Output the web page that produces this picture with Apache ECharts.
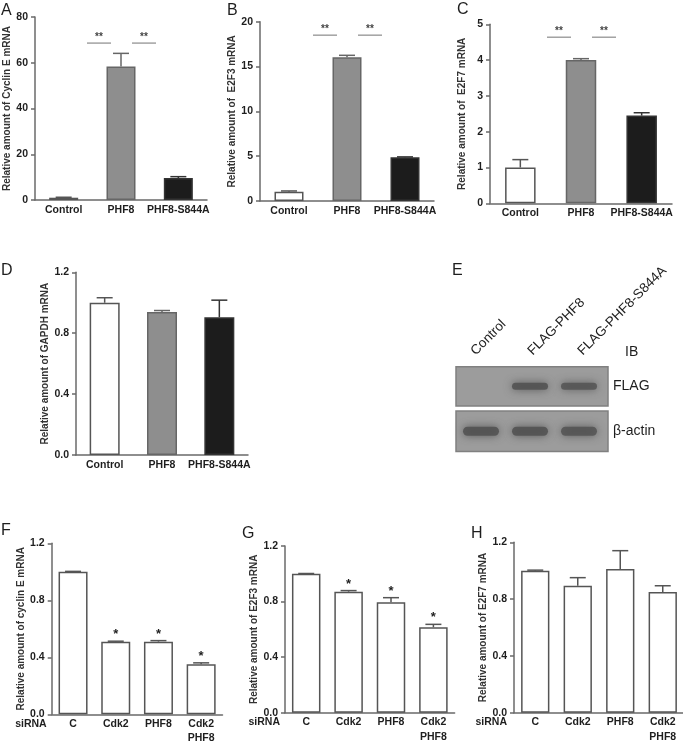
<!DOCTYPE html>
<html>
<head>
<meta charset="utf-8">
<script src="https://cdn.jsdelivr.net/npm/echarts@6/dist/echarts.min.js"></script>
<style>html,body{margin:0;padding:0;background:#fff}#c{width:683px;height:745px}</style>
</head>
<body>
<div id="c"></div>
<script>
// ---------------- DATA ----------------
const catsABC = ['Control', 'PHF8', 'PHF8-S844A'];
const catsFGH = ['C', 'Cdk2', 'PHF8', 'Cdk2\nPHF8'];

const cyclinE_A = [1.0, 58.4, 9.6];
const cyclinE_A_err = [0.2, 5.7, 0.6];
const e2f3_B = [1.04, 16.03, 4.87];
const e2f3_B_err = [0.08, 0.22, 0.05];
const e2f7_C = [1.0, 4.0, 2.45];
const e2f7_C_err = [0.22, 0.04, 0.08];
const gapdh_D = [1.0, 0.94, 0.905];
const gapdh_D_err = [0.033, 0.009, 0.112];

const cyclinE_F = [1.0, 0.509, 0.51, 0.351];
const cyclinE_F_err = [0.003, 0.004, 0.007, 0.01];
const e2f3_G = [1.0, 0.871, 0.795, 0.615];
const e2f3_G_err = [0.002, 0.008, 0.033, 0.021];
const e2f7_H = [1.0, 0.894, 1.012, 0.85];
const e2f7_H_err = [0.004, 0.057, 0.129, 0.044];

const sigLevelA = 68.6, sigLevelB = 18.5, sigLevelC = 4.64;   // "**" bracket heights
const starsF = [false, true, true, true];
const starsG = [false, true, true, true];

const blotLanes = ['Control', 'FLAG-PHF8', 'FLAG-PHF8-S844A'];
const blotRows = ['FLAG', 'β-actin'];
const flagBand = [0, 1.0, 0.92];
const actinBand = [1.0, 1.0, 0.95];

// ---------------- STYLE ----------------
const FONT = 'Liberation Sans, Arial, Helvetica, sans-serif';
const AX = '#6a6a6a';
const TXT = '#1e1e1e';
const fillABC = ['#ffffff', '#8e8e8e', '#1c1c1c'];
const edgeABC = ['#555555', '#666666', '#333333'];

const panels = [
  {g: [35, 17, 172, 183], max: 80, int: 20, name: 'Relative amount of Cyclin E mRNA', cats: catsABC, v: cyclinE_A, e: cyclinE_A_err, bw: 29, sig: sigLevelA, dec: 0, gap: 22},
  {g: [260, 21.7, 174, 179.3], max: 20, int: 5, name: 'Relative amount of  E2F3 mRNA', cats: catsABC, v: e2f3_B, e: e2f3_B_err, bw: 29, sig: sigLevelB, dec: 0, gap: 22},
  {g: [490, 24.3, 182, 179], max: 5, int: 1, name: 'Relative amount of  E2F7 mRNA', cats: catsABC, v: e2f7_C, e: e2f7_C_err, bw: 30.5, sig: sigLevelC, dec: 0, gap: 23},
  {g: [76, 272.3, 172, 182.7], max: 1.2, int: 0.4, name: 'Relative amount of GAPDH mRNA', cats: catsABC, v: gapdh_D, e: gapdh_D_err, bw: 30, dec: 1, gap: 22},
  {g: [51.7, 543.3, 170.8, 171], max: 1.2, int: 0.4, name: 'Relative amount of cyclin E mRNA', cats: catsFGH, v: cyclinE_F, e: cyclinE_F_err, bw: 29, stars: starsF, dec: 1, gap: 23, si: 5},
  {g: [285, 546, 169.6, 166.7], max: 1.2, int: 0.4, name: 'Relative amount of E2F3 mRNA', cats: catsFGH, v: e2f3_G, e: e2f3_G_err, bw: 28.5, stars: starsG, dec: 1, gap: 23, si: 5},
  {g: [514, 542.3, 170, 170.4], max: 1.2, int: 0.4, name: 'Relative amount of E2F7 mRNA', cats: catsFGH, v: e2f7_H, e: e2f7_H_err, bw: 28.3, dec: 1, gap: 25, si: 7}
];

const grids = [], xAxes = [], yAxes = [], series = [];
const graphic = [];

panels.forEach((p, i) => {
  const abc = p.cats === catsABC;
  grids.push({left: p.g[0], top: p.g[1], width: p.g[2], height: p.g[3], containLabel: false, outerBoundsMode: 'none'});
  xAxes.push({
    type: 'category', gridIndex: i, data: p.cats, boundaryGap: true,
    axisLine: {lineStyle: {color: AX, width: 1.5}}, axisTick: {show: false},
    axisLabel: {color: TXT, fontFamily: FONT, fontWeight: 'bold', fontSize: 10.5, margin: 2.5, lineHeight: 14.5, interval: 0}
  });
  yAxes.push({
    type: 'value', gridIndex: i, min: 0, max: p.max, interval: p.int,
    axisLine: {show: true, lineStyle: {color: AX, width: 1.5}},
    axisTick: {show: true, length: 4, lineStyle: {color: AX, width: 1.5}},
    splitLine: {show: false},
    axisLabel: {color: TXT, fontFamily: FONT, fontWeight: 'bold', fontSize: 10.5, margin: 7,
      formatter: v => v.toFixed(p.dec)},
    name: p.name, nameLocation: 'middle', nameGap: p.gap,
    nameTextStyle: {color: '#333', fontFamily: FONT, fontWeight: 'bold', fontSize: 10}
  });
  if (p.si) {
    graphic.push({type: 'text', x: p.g[0] - p.si, y: p.g[1] + p.g[3] + 9.5,
      style: {text: 'siRNA', fill: TXT, font: 'bold 10.5px ' + FONT, align: 'right', verticalAlign: 'middle'}});
  }
  series.push({
    type: 'bar', xAxisIndex: i, yAxisIndex: i, barWidth: p.bw,
    data: p.v.map((val, k) => ({value: val, itemStyle: {
      color: abc ? fillABC[k] : '#ffffff',
      borderColor: abc ? edgeABC[k] : '#555555', borderWidth: 1.5}})),
    animation: false
  });
  // error bars (upper only)
  series.push({
    type: 'custom', xAxisIndex: i, yAxisIndex: i, z: 5, animation: false,
    data: p.v.map((val, k) => [k, val, p.e[k]]),
    renderItem: (params, api) => {
      const k = api.value(0), val = api.value(1), er = api.value(2);
      const a = api.coord([k, val]), b = api.coord([k, val + er]);
      const col = abc ? edgeABC[k] : '#555555';
      return {type: 'group', children: [
        {type: 'line', shape: {x1: a[0], y1: a[1], x2: b[0], y2: b[1]}, style: {stroke: col, lineWidth: 1.5}},
        {type: 'line', shape: {x1: b[0] - 8, y1: b[1], x2: b[0] + 8, y2: b[1]}, style: {stroke: col, lineWidth: 1.5}}
      ]};
    }
  });
  if (p.sig !== undefined) {
    series.push({
      type: 'custom', xAxisIndex: i, yAxisIndex: i, z: 5, animation: false,
      data: [[1, p.sig]],
      renderItem: (params, api) => {
        const c = api.coord([api.value(0), api.value(1)]);
        const segs = [[-34, -10], [11, 35]];
        const ch = [];
        segs.forEach(s => {
          ch.push({type: 'line', shape: {x1: c[0] + s[0], y1: c[1], x2: c[0] + s[1], y2: c[1]}, style: {stroke: '#8a8a8a', lineWidth: 1.2}});
          ch.push({type: 'text', x: c[0] + (s[0] + s[1]) / 2, y: c[1] - 1,
            style: {text: '**', fill: '#444', font: 'bold 10px ' + FONT, align: 'center', verticalAlign: 'bottom'}});
        });
        return {type: 'group', children: ch};
      }
    });
  }
  if (p.stars) {
    series.push({
      type: 'custom', xAxisIndex: i, yAxisIndex: i, z: 5, animation: false,
      data: p.v.map((val, k) => [k, val + p.e[k], p.stars[k] ? 1 : 0]),
      renderItem: (params, api) => {
        if (!api.value(2)) return null;
        const c = api.coord([api.value(0), api.value(1)]);
        return {type: 'text', x: c[0], y: c[1],
          style: {text: '*', fill: TXT, font: 'bold 13px ' + FONT, align: 'center', verticalAlign: 'bottom'}};
      }
    });
  }
});

// ---------------- graphics: panel letters + blot ----------------
const letters = [['A', 1, 3], ['B', 227, 3], ['C', 457, 2], ['D', 1, 263], ['E', 452, 263], ['F', 1, 523], ['G', 242, 526], ['H', 471, 526]];
letters.forEach(l => graphic.push({type: 'text', x: l[1], y: l[2],
  style: {text: l[0], fill: TXT, font: '16px ' + FONT, align: 'left', verticalAlign: 'top'}}));

// blot layout
const laneX = [481, 530, 579];
const boxes = [{y: 366.7, h: 39.3, band: flagBand, bh: 7}, {y: 411, h: 40.5, band: actinBand, bh: 9}];
boxes.forEach((b, r) => {
  graphic.push({type: 'rect', shape: {x: 456, y: b.y, width: 152, height: b.h},
    style: {fill: '#9c9c9c', stroke: '#808080', lineWidth: 1.5}});
  b.band.forEach((inten, k) => {
    if (inten <= 0) return;
    graphic.push({type: 'rect', shape: {x: laneX[k] - 18, y: b.y + b.h / 2 - b.bh / 2, width: 36, height: b.bh, r: b.bh / 2},
      style: {fill: '#505050', opacity: 0.85 * inten, shadowBlur: 8, shadowColor: 'rgba(70,70,70,0.9)'}});
  });
  graphic.push({type: 'text', x: 613, y: b.y + b.h / 2,
    style: {text: blotRows[r], fill: TXT, font: '14px ' + FONT, align: 'left', verticalAlign: 'middle'}});
});
graphic.push({type: 'text', x: 625, y: 352, style: {text: 'IB', fill: TXT, font: '14px ' + FONT, align: 'left', verticalAlign: 'middle'}});
const laneLabelX = [478, 535, 585];
blotLanes.forEach((t, k) => graphic.push({type: 'text', x: laneLabelX[k], y: 358, rotation: Math.PI / 4,
  style: {text: t, fill: TXT, font: '13.5px ' + FONT, align: 'left', verticalAlign: 'bottom'}}));

const chart = echarts.init(document.getElementById('c'), null, {renderer: 'canvas'});
chart.setOption({animation: false, grid: grids, xAxis: xAxes, yAxis: yAxes, series: series, graphic: graphic});
</script>
</body>
</html>
